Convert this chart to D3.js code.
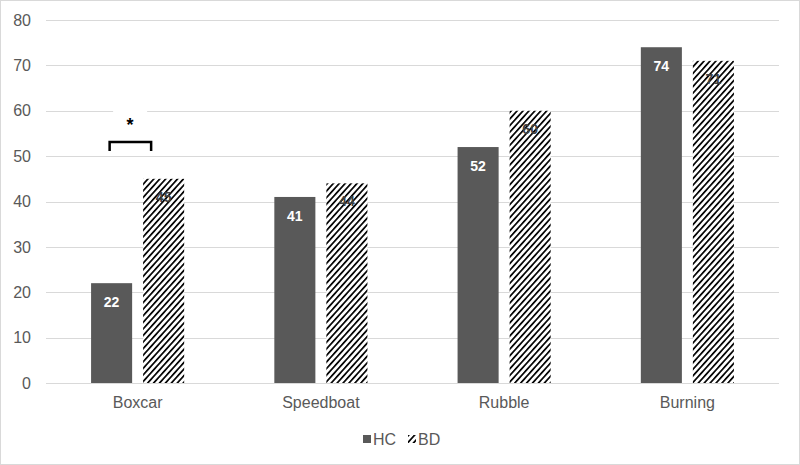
<!DOCTYPE html>
<html><head><meta charset="utf-8">
<script src="https://cdn.jsdelivr.net/npm/d3@7"></script>
<style>body{margin:0;background:#fff}svg{display:block;font-family:Arial,"Liberation Sans",sans-serif}</style>
</head><body><svg id="c" width="800" height="465"></svg>
<script>
const categories = ["Boxcar","Speedboat","Rubble","Burning"];
const seriesNames = ["HC","BD"];
const hcValues = [22,41,52,74];
const bdValues = [45,44,60,71];
const yTicks = [0,10,20,30,40,50,60,70,80];

const svg = d3.select("#c");
const W=800,H=465;
const mLeft=46,mRight=779,mTop=20,mBottom=383;

const defs = svg.append("defs");
const pat = defs.append("pattern").attr("id","hatch").attr("patternUnits","userSpaceOnUse")
  .attr("width",4.4).attr("height",10).attr("patternTransform","rotate(42)");
pat.append("rect").attr("width",4.4).attr("height",10).attr("fill","#fff");
pat.append("rect").attr("x",0).attr("y",0).attr("width",1.7).attr("height",10).attr("fill","#000");

svg.append("rect").attr("x",0.5).attr("y",0.5).attr("width",W-1).attr("height",H-1)
  .attr("fill","#fff").attr("stroke","#d9d9d9");

const x = d3.scaleBand().domain(categories).range([mLeft,mRight]).paddingInner(0).paddingOuter(0);
const y = d3.scaleLinear().domain([0,80]).range([mBottom,mTop]);
const step = x.bandwidth();
const bw = step*0.224, gap = step*0.06;

// gridlines
svg.append("g").selectAll("line").data(yTicks).join("line")
  .attr("x1",mLeft).attr("x2",mRight).attr("y1",d=>Math.round(y(d))+0.5).attr("y2",d=>Math.round(y(d))+0.5)
  .attr("stroke","#d9d9d9").attr("stroke-width",1);

// y axis labels
const yAxis = d3.axisLeft(y).tickValues(yTicks).tickSize(0).tickPadding(15);
const ga = svg.append("g").attr("transform",`translate(${mLeft},0)`).call(yAxis);
ga.select(".domain").remove();
ga.selectAll("text").attr("font-size","16px").attr("fill","#595959").attr("font-family","Arial, 'Liberation Sans', sans-serif");

// x axis labels
const xAxis = d3.axisBottom(x).tickSize(0).tickPadding(14);
const gx = svg.append("g").attr("transform",`translate(0,${mBottom})`).call(xAxis);
gx.select(".domain").remove();
gx.selectAll("text").attr("font-size","16px").attr("fill","#595959").attr("font-family","Arial, 'Liberation Sans', sans-serif");

// bars
const cx = c => x(c)+step/2;
svg.append("g").selectAll("rect").data(categories).join("rect")
  .attr("x",(c)=>cx(c)-gap/2-bw).attr("width",bw)
  .attr("y",(c,i)=>y(hcValues[i])).attr("height",(c,i)=>y(0)-y(hcValues[i]))
  .attr("fill","#595959");
svg.append("g").selectAll("rect").data(categories).join("rect")
  .attr("x",(c)=>cx(c)+gap/2).attr("width",bw)
  .attr("y",(c,i)=>y(bdValues[i])).attr("height",(c,i)=>y(0)-y(bdValues[i]))
  .attr("fill","url(#hatch)");

// axis baseline
svg.append("line").attr("x1",mLeft).attr("x2",mRight).attr("y1",Math.round(y(0))+0.5).attr("y2",Math.round(y(0))+0.5)
  .attr("stroke","#d9d9d9");

// data labels
svg.append("g").selectAll("text").data(categories).join("text")
  .attr("x",c=>cx(c)-gap/2-bw/2).attr("y",(c,i)=>y(hcValues[i])+24)
  .attr("text-anchor","middle").attr("font-size","14px").attr("font-weight","bold").attr("fill","#fff")
  .text((c,i)=>hcValues[i]);
svg.append("g").selectAll("text").data(categories).join("text")
  .attr("x",c=>cx(c)+gap/2+bw/2).attr("y",(c,i)=>y(bdValues[i])+23)
  .attr("text-anchor","middle").attr("font-size","14px").attr("font-weight","bold").attr("fill","#404040")
  .text((c,i)=>bdValues[i]);

// significance bracket
const b0 = cx(categories[0]);
svg.append("rect").attr("x",b0-24.5).attr("y",100).attr("width",34).attr("height",30).attr("fill","#fff");
svg.append("path").attr("d",`M${b0-28},151 V142 H${b0+13.5} V151`).attr("fill","none").attr("stroke","#000").attr("stroke-width",2.5);
svg.append("text").attr("x",b0-7.5).attr("y",131).attr("text-anchor","middle").attr("font-size","18px").attr("font-weight","bold").attr("fill","#000").text("*");

// legend
const lg = svg.append("g");
lg.append("rect").attr("x",363).attr("y",435).attr("width",8).attr("height",8).attr("fill","#595959");
lg.append("text").attr("x",373).attr("y",445).attr("font-size","16px").attr("fill","#595959").text(seriesNames[0]);
lg.append("rect").attr("x",408).attr("y",435).attr("width",8).attr("height",8).attr("fill","url(#hatch)");
lg.append("text").attr("x",418).attr("y",445).attr("font-size","16px").attr("fill","#595959").text(seriesNames[1]);
</script></body></html>
